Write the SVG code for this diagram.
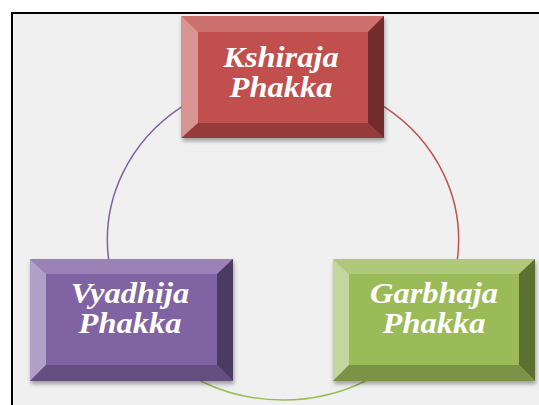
<svg xmlns="http://www.w3.org/2000/svg" width="539" height="405" viewBox="0 0 539 405">
<defs>
<filter id="sh" x="-10%" y="-10%" width="125%" height="130%">
<feDropShadow dx="1" dy="3" stdDeviation="2" flood-color="#000" flood-opacity="0.35"/>
</filter>
</defs>
<style>
.lbl{font-family:"Liberation Serif","Times New Roman",serif;font-weight:bold;font-style:italic;font-size:29px;fill:#fff;text-anchor:middle}
.arc{fill:none;stroke-width:1.5}
</style>
<rect x="0" y="0" width="539" height="405" fill="#fff"/>
<rect x="12" y="13" width="540" height="400" fill="#f0f0f0" stroke="#000" stroke-width="2"/>
<g id="connectors">
<path class="arc" stroke="#c0504d" d="M384,106.6 A176,163 0 0,1 457.4,259"/>
<path class="arc" stroke="#9bbb59" d="M365.5,381 A176,163 0 0,1 200.5,381"/>
<path class="arc" stroke="#8064a2" d="M108.6,259 A176,163 0 0,1 182,106.6"/>
</g>
<g id="kshiraja">
<g filter="url(#sh)">
<rect x="181.5" y="16" width="202.5" height="122" fill="#c0504d"/>
</g>
<polygon points="181.5,16 384,16 368,32 198,32" fill="#cd716e"/>
<polygon points="181.5,16 198,32 198,123 181.5,138" fill="#d99593"/>
<polygon points="384,16 384,138 368,123 368,32" fill="#722c2b"/>
<polygon points="181.5,138 198,123 368,123 384,138" fill="#953c3a"/>
<g transform="translate(281,0) scale(1.12,1)">
<text class="lbl" x="0" y="67">Kshiraja</text>
<text class="lbl" x="0" y="97">Phakka</text>
</g>
</g>
<g id="vyadhija">
<g filter="url(#sh)">
<rect x="30" y="259" width="203" height="122" fill="#8064a2"/>
</g>
<polygon points="30,259 233,259 217,274 46,274" fill="#9a82b6"/>
<polygon points="30,259 46,274 46,365 30,381" fill="#b0a0c8"/>
<polygon points="233,259 233,381 217,365 217,274" fill="#4c3b61"/>
<polygon points="30,381 46,365 217,365 233,381" fill="#654f80"/>
<g transform="translate(130,0) scale(1.12,1)">
<text class="lbl" x="0" y="303">Vyadhija</text>
<text class="lbl" x="0" y="333">Phakka</text>
</g>
</g>
<g id="garbhaja">
<g filter="url(#sh)">
<rect x="333" y="259" width="202" height="122" fill="#9bbb59"/>
</g>
<polygon points="333,259 535,259 519,274 349,274" fill="#afc87a"/>
<polygon points="333,259 349,274 349,365 333,381" fill="#c3d69b"/>
<polygon points="535,259 535,381 519,365 519,274" fill="#5d7034"/>
<polygon points="333,381 349,365 519,365 535,381" fill="#7a9346"/>
<g transform="translate(434,0) scale(1.12,1)">
<text class="lbl" x="0" y="303">Garbhaja</text>
<text class="lbl" x="0" y="333">Phakka</text>
</g>
</g>
</svg>
